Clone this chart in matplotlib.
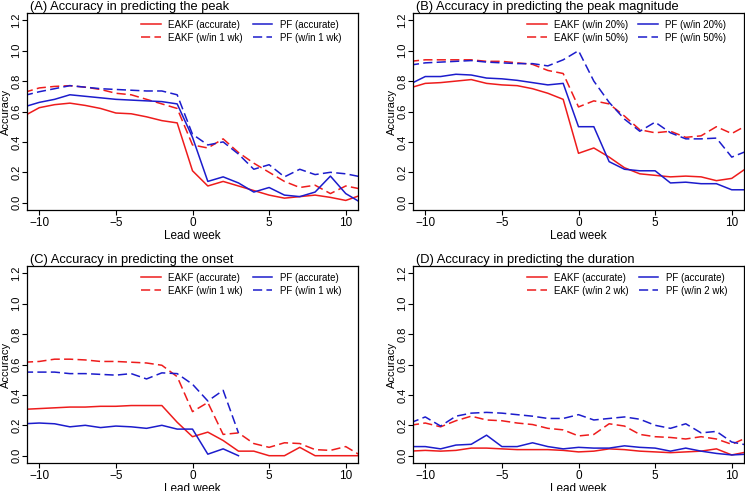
import matplotlib
matplotlib.use("Agg")
import matplotlib.pyplot as plt
import numpy as np

plt.rcParams['font.family'] = ['Liberation Sans', 'DejaVu Sans']

# lead weeks -11..11 (axis shows -10.8..10.8)
weeks = list(range(-11, 12))

# (A) peak timing
a_eakf_acc = [0.57, 0.625, 0.645, 0.655, 0.64, 0.62, 0.59, 0.585, 0.565, 0.54, 0.525, 0.21,
              0.11, 0.14, 0.11, 0.08, 0.05, 0.03, 0.04, 0.05, 0.035, 0.015, 0.05]
a_pf_acc = [0.63, 0.66, 0.68, 0.71, 0.70, 0.69, 0.68, 0.675, 0.67, 0.665, 0.65, 0.43,
            0.14, 0.17, 0.13, 0.07, 0.10, 0.05, 0.04, 0.07, 0.175, 0.06, 0.0]
a_eakf_1wk = [0.725, 0.755, 0.765, 0.77, 0.76, 0.745, 0.72, 0.71, 0.68, 0.65, 0.62, 0.38,
              0.36, 0.42, 0.33, 0.26, 0.20, 0.14, 0.10, 0.115, 0.06, 0.11, 0.09]
a_pf_1wk = [0.705, 0.73, 0.75, 0.77, 0.76, 0.75, 0.745, 0.74, 0.735, 0.735, 0.71, 0.45,
            0.38, 0.40, 0.32, 0.22, 0.25, 0.17, 0.22, 0.185, 0.20, 0.19, 0.17]

# (B) peak magnitude
b_eakf_20 = [0.755, 0.785, 0.79, 0.80, 0.81, 0.785, 0.775, 0.77, 0.75, 0.72, 0.68, 0.325,
             0.36, 0.30, 0.23, 0.19, 0.18, 0.17, 0.175, 0.17, 0.145, 0.16, 0.23]
b_pf_20 = [0.78, 0.83, 0.83, 0.845, 0.84, 0.82, 0.815, 0.805, 0.79, 0.775, 0.785, 0.50,
           0.50, 0.27, 0.22, 0.21, 0.21, 0.13, 0.135, 0.125, 0.125, 0.085, 0.085]
b_eakf_50 = [0.93, 0.94, 0.94, 0.94, 0.94, 0.93, 0.93, 0.92, 0.91, 0.87, 0.85, 0.63,
             0.67, 0.65, 0.57, 0.48, 0.46, 0.47, 0.43, 0.44, 0.50, 0.455, 0.51]
b_pf_50 = [0.905, 0.92, 0.925, 0.93, 0.935, 0.925, 0.92, 0.915, 0.915, 0.90, 0.94, 1.0,
           0.80, 0.66, 0.55, 0.47, 0.53, 0.46, 0.42, 0.42, 0.425, 0.30, 0.34]

# (C) onset (PF missing after week 3)
nan = np.nan
c_eakf_acc = [0.305, 0.31, 0.315, 0.32, 0.32, 0.325, 0.325, 0.33, 0.33, 0.33, 0.22, 0.125,
              0.155, 0.10, 0.03, 0.03, 0.0, 0.0, 0.055, 0.0, 0.0, 0.0, 0.0]
c_pf_acc = [0.21, 0.215, 0.21, 0.19, 0.20, 0.185, 0.195, 0.19, 0.18, 0.20, 0.175, 0.175,
            0.01, 0.045, 0.0, nan, nan, nan, nan, nan, nan, nan, nan]
c_eakf_1wk = [0.615, 0.62, 0.635, 0.635, 0.63, 0.62, 0.62, 0.615, 0.61, 0.595, 0.52, 0.29,
              0.35, 0.14, 0.15, 0.08, 0.055, 0.085, 0.08, 0.04, 0.035, 0.06, 0.0]
c_pf_1wk = [0.55, 0.55, 0.55, 0.54, 0.54, 0.535, 0.53, 0.54, 0.505, 0.545, 0.54, 0.47,
            0.36, 0.43, 0.15, nan, nan, nan, nan, nan, nan, nan, nan]

# (D) duration
d_eakf_acc = [0.03, 0.035, 0.03, 0.035, 0.05, 0.05, 0.045, 0.04, 0.04, 0.04, 0.035, 0.025,
              0.03, 0.045, 0.04, 0.03, 0.025, 0.02, 0.025, 0.03, 0.045, 0.005, 0.025]
d_pf_acc = [0.06, 0.06, 0.045, 0.07, 0.075, 0.135, 0.06, 0.06, 0.085, 0.06, 0.045, 0.055,
            0.05, 0.05, 0.065, 0.055, 0.05, 0.03, 0.05, 0.03, 0.015, 0.005, 0.01]
d_eakf_2wk = [0.20, 0.215, 0.19, 0.23, 0.26, 0.235, 0.23, 0.215, 0.205, 0.18, 0.17, 0.13,
              0.14, 0.21, 0.195, 0.14, 0.125, 0.12, 0.11, 0.125, 0.11, 0.075, 0.12]
d_pf_2wk = [0.215, 0.255, 0.195, 0.26, 0.28, 0.285, 0.28, 0.27, 0.26, 0.245, 0.245, 0.27,
            0.235, 0.245, 0.255, 0.24, 0.20, 0.18, 0.21, 0.15, 0.16, 0.09, 0.07]

# series order per panel: EAKF solid, EAKF dashed, PF solid, PF dashed
panels = [
    ("(A) Accuracy in predicting the peak",
     [a_eakf_acc, a_eakf_1wk, a_pf_acc, a_pf_1wk],
     ["EAKF (accurate)", "EAKF (w/in 1 wk)", "PF (accurate)", "PF (w/in 1 wk)"]),
    ("(B) Accuracy in predicting the peak magnitude",
     [b_eakf_20, b_eakf_50, b_pf_20, b_pf_50],
     ["EAKF (w/in 20%)", "EAKF (w/in 50%)", "PF (w/in 20%)", "PF (w/in 50%)"]),
    ("(C) Accuracy in predicting the onset",
     [c_eakf_acc, c_eakf_1wk, c_pf_acc, c_pf_1wk],
     ["EAKF (accurate)", "EAKF (w/in 1 wk)", "PF (accurate)", "PF (w/in 1 wk)"]),
    ("(D) Accuracy in predicting the duration",
     [d_eakf_acc, d_eakf_2wk, d_pf_acc, d_pf_2wk],
     ["EAKF (accurate)", "EAKF (w/in 2 wk)", "PF (accurate)", "PF (w/in 2 wk)"]),
]

colors = ['#ee1c1c', '#ee1c1c', '#1c1ccc', '#1c1ccc']
dash = (0, (6, 2.8))
styles = ['-', dash, '-', dash]

# axes boxes in figure pixels: left, top, right, bottom
W, H = 745, 491
boxes = [(27, 13, 358, 210), (413, 13, 744, 210),
         (27, 266, 358, 463), (413, 266, 744, 463)]

fig = plt.figure(figsize=(7.45, 4.91), dpi=100)

for (title, series, labels), (l, t, r, b) in zip(panels, boxes):
    ax = fig.add_axes([l / W, 1 - b / H, (r - l) / W, (b - t) / H])
    handles = []
    for y, c, ls in zip(series, colors, styles):
        h, = ax.plot(weeks, y, color=c, linestyle=ls, lw=1.1)
        handles.append(h)
    ax.set_xlim(-10.8, 10.8)
    ax.set_ylim(-0.048, 1.248)
    ax.set_xticks([-10, -5, 0, 5, 10])
    ax.set_yticks(np.arange(0, 1.21, 0.2))
    ax.set_yticklabels([f"{v:.1f}" for v in np.arange(0, 1.21, 0.2)],
                       rotation=90, va='center')
    ax.tick_params(labelsize=8.5, length=3.6, width=0.8)
    ax.tick_params(axis='y', labelsize=8, pad=0.3)
    ax.tick_params(axis='x', pad=1.5)
    for s in ax.spines.values():
        s.set_linewidth(0.9)
    ax.set_xlabel("Lead week", fontsize=8.5, labelpad=1)
    ax.set_ylabel("Accuracy", fontsize=8, va='center')
    ax.yaxis.set_label_coords(-0.064, 0.5)
    ax.set_title(title, loc='left', fontsize=9.3, pad=2, x=0.01)
    ax.legend(handles, labels, ncol=2, loc='upper left',
              bbox_to_anchor=(0.345, 0.965), frameon=False, fontsize=7,
              handlelength=2.0, handletextpad=0.8, columnspacing=1.0,
              labelspacing=0.3, borderpad=0, borderaxespad=0)

fig.savefig("out.png", dpi=100)
